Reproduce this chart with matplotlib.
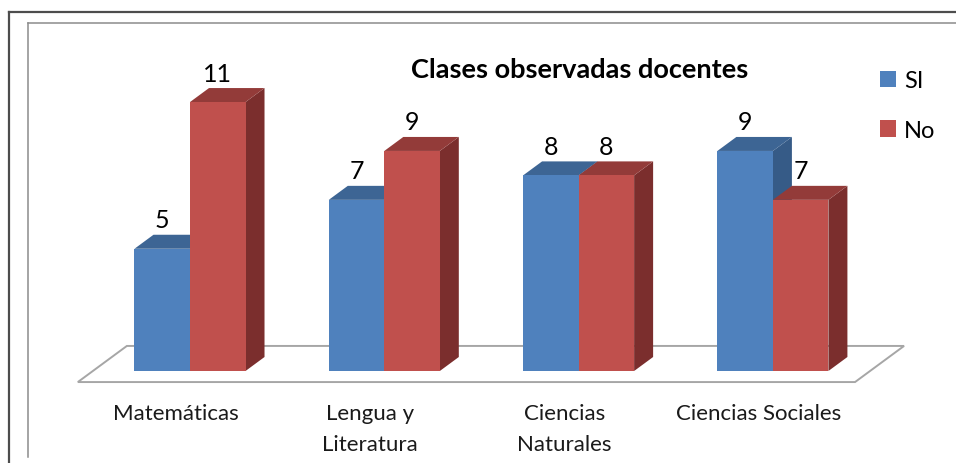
"""Clases observadas docentes: Excel-style 3D clustered bars (SI / No)."""

import matplotlib
matplotlib.use("Agg")
import matplotlib.pyplot as plt
from matplotlib.patches import Patch
from matplotlib.lines import Line2D

CATEGORIES = ["Matemáticas", "Lengua y\nLiteratura", "Ciencias\nNaturales",
              "Ciencias Sociales"]
SERIES = ["SI", "No"]
SI_VALUES = [5, 7, 8, 9]
NO_VALUES = [11, 9, 8, 7]
TITLE = "Clases observadas docentes"

# face colours: front, top, side
BLUE = ("#4f81bd", "#3d6594", "#365b87")
RED = ("#c0504d", "#933b39", "#7b2e2d")

W, H, DPI = 956, 464, 100
BAR_W = 0.2857          # one bar, in category units
DX, DY = 0.0978, 0.5726  # bar depth projection (category units, value units)

plt.rcParams["font.family"] = ["Lato", "DejaVu Sans"]


def bar3d(ax, x0, x1, v, cols):
    front, top, side = cols
    ax.fill([x1, x1 + DX, x1 + DX, x1], [0, DY, v + DY, v], color=side, lw=0)
    ax.fill([x0, x1, x1 + DX, x0 + DX], [v, v, v + DY, v + DY], color=top, lw=0)
    ax.fill([x0, x1, x1, x0], [0, 0, v, v], color=front, lw=0)


def main():
    fig = plt.figure(figsize=(W / DPI, H / DPI), dpi=DPI)
    ax = fig.add_axes([0, 0, 1, 1])
    # map data so that category i sits at pixel 190 + 194.3 i, value 0 at row 372
    ax.set_xlim(-190 / 194.3, (W - 190) / 194.3)
    ax.set_ylim((372 - H) / 24.45, 372 / 24.45)
    ax.axis("off")

    # chart frame (outer and inner border lines)
    fig.add_artist(Line2D([9 / W, 9 / W], [0, 1 - 13 / H], color="#4d4d4d",
                          lw=1.6, transform=fig.transFigure))
    fig.add_artist(Line2D([9 / W, 1], [1 - 13 / H, 1 - 13 / H], color="#4d4d4d",
                          lw=1.6, transform=fig.transFigure))
    fig.add_artist(Line2D([28 / W, 28 / W], [6 / H, 1 - 23.5 / H], color="#8c8c8c",
                          lw=1.1, transform=fig.transFigure))
    fig.add_artist(Line2D([28 / W, 1], [1 - 23.5 / H, 1 - 23.5 / H], color="#8c8c8c",
                          lw=1.1, transform=fig.transFigure))

    # floor
    n = len(CATEGORIES)
    d0, d1 = -0.79, 1.79
    fx = [-0.5 + d0 * DX, n - 0.5 + d0 * DX, n - 0.5 + d1 * DX, -0.5 + d1 * DX]
    fy = [d0 * DY, d0 * DY, d1 * DY, d1 * DY]
    ax.fill(fx, fy, facecolor="white", edgecolor="#a6a6a6", lw=1.4, zorder=0)

    for i, (si, no) in enumerate(zip(SI_VALUES, NO_VALUES)):
        bar3d(ax, i - BAR_W, i, si, BLUE)
        bar3d(ax, i, i + BAR_W, no, RED)
        for xc, v in ((i - BAR_W / 2, si), (i + BAR_W / 2, no)):
            ax.annotate(str(v), (xc, v), xytext=(0, 29), textcoords="offset pixels",
                        ha="center", va="center", fontsize=18, color="black")
        ax.text(i - 0.072, -1.30, CATEGORIES[i], ha="center", va="top",
                fontsize=16, linespacing=1.72, color="#1a1a1a")

    fig.text(580 / W, 1 - 70 / H, TITLE, ha="center", va="center",
             fontsize=19.5, fontweight="bold")

    handles = [Patch(facecolor=BLUE[0], label=SERIES[0]),
               Patch(facecolor=RED[0], label=SERIES[1])]
    ax.legend(handles=handles, loc="upper left", bbox_to_anchor=(880 / W, 1 - 71 / H),
              bbox_transform=fig.transFigure, frameon=False, fontsize=17,
              handlelength=0.68, handleheight=0.68, handletextpad=0.35,
              labelspacing=1.22, borderpad=0, borderaxespad=0)

    fig.savefig("out.png", dpi=DPI)


if __name__ == "__main__":
    main()
